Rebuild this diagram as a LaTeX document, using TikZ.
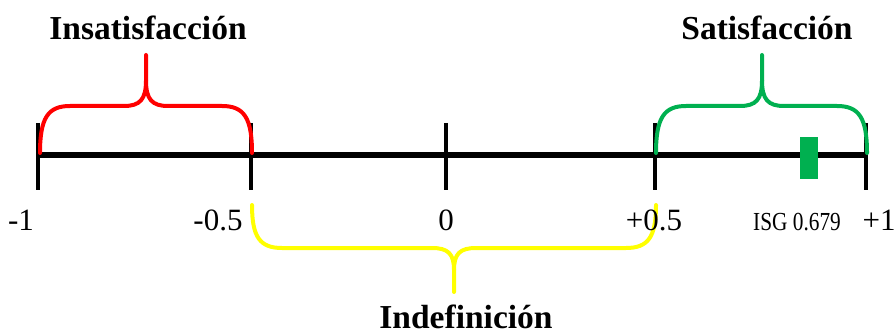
\documentclass[tikz,border=0pt]{standalone}
\usepackage{fontspec}
\setmainfont{Liberation Serif}
\definecolor{bred}{HTML}{FF0000}
\definecolor{bgreen}{HTML}{00B050}
\definecolor{byellow}{HTML}{FFFF00}
\tikzset{
  axisline/.style={line width=6pt},
  tickline/.style={line width=4pt},
  bracel/.style={line width=4pt, line cap=round, line join=round},
  title/.style={font=\fontsize{33.5}{33.5}\selectfont\bfseries, anchor=base, inner sep=0pt},
  num/.style={font=\fontsize{31}{31}\selectfont, anchor=base, inner sep=0pt},
}
% color, x0, x1, m, ybase, yhoriz, ytip
\newcommand\drawbrace[7]{%
  \draw[bracel,#1] (#2,#5) .. controls (#2,{#6+0.25*(#5-#6)}) and ({#2+8},#6) .. ({#2+30},#6)
     -- ({#4-22},#6) .. controls ({#4-6},#6) and (#4,{#6+0.13*(#7-#6)}) .. (#4,{#6+0.5*(#7-#6)}) -- (#4,#7);
  \draw[bracel,#1] (#3,#5) .. controls (#3,{#6+0.25*(#5-#6)}) and ({#3-8},#6) .. ({#3-30},#6)
     -- ({#4+22},#6) .. controls ({#4+6},#6) and (#4,{#6+0.13*(#7-#6)}) .. (#4,{#6+0.5*(#7-#6)});
}
\begin{document}
\begin{tikzpicture}[x=1pt,y=-1pt]
\useasboundingbox (0,0) rectangle (896,334);
% ticks
\foreach \n/\x in {a/38,b/251,c/446,d/655,e/866}{
  \coordinate (t\n) at (\x,123);
  \coordinate (b\n) at (\x,190);
  \draw[tickline] (t\n) -- (b\n);
}
\coordinate (L) at (36,155);
\coordinate (R) at (868,155);
\draw[axisline] (L) -- (R);
% braces
\drawbrace{bred}{40}{252}{146}{153}{106}{55}
\drawbrace{bgreen}{656}{867}{762}{153}{106}{55}
\drawbrace{byellow}{252}{656}{454}{205}{248}{292}
% marker
\node[fill=bgreen, minimum width=18pt, minimum height=42pt, inner sep=0pt] (isg) at (809,158) {};
% labels
\node[num] (l1) at (21,230) {-1};
\node[num] (l2) at (218,230) {-0.5};
\node[num] (l3) at (446,230) {0};
\node[num] (l4) at (654,230) {+0.5};
\node[num] (l5) at (879,230) {+1};
\node[font=\fontsize{26}{26}\selectfont, anchor=base, inner sep=0pt] (isgl) at (797,230) {\scalebox{0.82}[1]{ISG 0.679}};
\node[title] (ti) at (148,40) {Insatisfacción};
\node[title] (ts) at (767,40) {Satisfacción};
\node[title] (tn) at (466,328) {Indefinición};
\end{tikzpicture}
\end{document}
